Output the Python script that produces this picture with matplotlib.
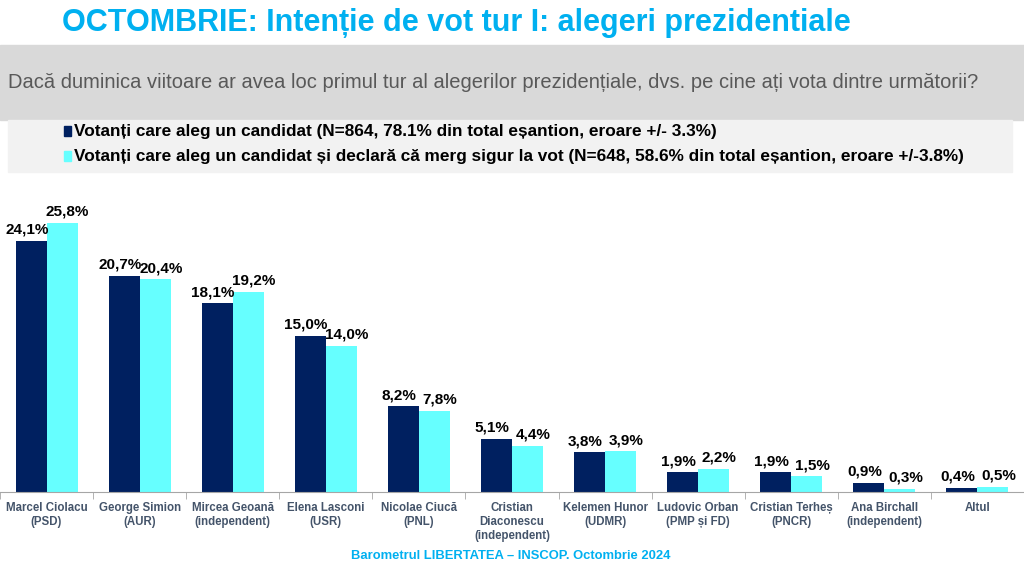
import numpy as np
import matplotlib
matplotlib.use("Agg")
import matplotlib.pyplot as plt
from matplotlib.patches import Rectangle

# Data
candidates = ["Marcel Ciolacu\n(PSD)", "George Simion\n(AUR)", "Mircea Geoană\n(independent)",
              "Elena Lasconi\n(USR)", "Nicolae Ciucă\n(PNL)", "Cristian\nDiaconescu\n(independent)",
              "Kelemen Hunor\n(UDMR)", "Ludovic Orban\n(PMP și FD)", "Cristian Terheș\n(PNCR)",
              "Ana Birchall\n(independent)", "Altul"]
all_voters = [24.1, 20.7, 18.1, 15.0, 8.2, 5.1, 3.8, 1.9, 1.9, 0.9, 0.4]
sure_voters = [25.8, 20.4, 19.2, 14.0, 7.8, 4.4, 3.9, 2.2, 1.5, 0.3, 0.5]
legend_labels = [
    "Votanți care aleg un candidat (N=864, 78.1% din total eșantion, eroare +/- 3.3%)",
    "Votanți care aleg un candidat și declară că merg sigur la vot (N=648, 58.6% din total eșantion, eroare +/-3.8%)",
]

DARK = "#002060"
CYAN = "#66ffff"
plt.rcParams["font.family"] = ["Liberation Sans", "DejaVu Sans"]

W, H = 1024, 571
fig = plt.figure(figsize=(W / 100, H / 100), dpi=100)

# background bands (figure pixel coords)
def px_rect(x0, y0, x1, y1, color):
    fig.patches.append(Rectangle((x0 / W, 1 - y1 / H), (x1 - x0) / W, (y1 - y0) / H,
                                 transform=fig.transFigure, color=color, zorder=0))

px_rect(0, 45, W, 120, "#d9d9d9")
px_rect(8, 120, 1012, 172, "#f2f2f2")

fig.text(62 / W, 1 - 23 / H, "OCTOMBRIE: Intenție de vot tur I: alegeri prezidentiale",
         fontsize=22, fontweight="bold", color="#00b0f0", va="center", ha="left")
fig.text(8 / W, 1 - 82 / H,
         "Dacă duminica viitoare ar avea loc primul tur al alegerilor prezidențiale, dvs. pe cine ați vota dintre următorii?",
         fontsize=14.5, color="#595959", va="center", ha="left")

# legend
for i, (lab, col) in enumerate(zip(legend_labels, [DARK, CYAN])):
    y = 131 + i * 25
    px_rect(64, y - 5, 71, y + 5, col)
    fig.text(74 / W, 1 - y / H, lab, fontsize=12.4, fontweight="bold",
             color="black", va="center", ha="left")

# chart
ax = fig.add_axes([0, 1 - 492 / H, 1, 292 / H])
x = np.arange(len(candidates))
bw = 0.333
b1 = ax.bar(x - bw / 2, all_voters, bw, color=DARK, zorder=2)
b2 = ax.bar(x + bw / 2, sure_voters, bw, color=CYAN, zorder=2)
for bars, vals, dx in [(b1, all_voters, -3), (b2, sure_voters, 4)]:
    for b, v in zip(bars, vals):
        ax.annotate(f"{v:.1f}%".replace(".", ","), (b.get_x() + b.get_width() / 2, v),
                    xytext=(dx, 3), textcoords="offset points", ha="center", va="bottom",
                    fontsize=11, fontweight="bold", color="black")

ax.set_xlim(-0.5, 10.5)
ax.set_ylim(0, 28)
ax.set_yticks([])
for s in ["top", "left", "right"]:
    ax.spines[s].set_visible(False)
ax.spines["bottom"].set_color("#a6a6a6")
ax.set_xticks(x)
ax.set_xticklabels(candidates, fontsize=8.3, fontweight="bold", color="#44546a", linespacing=1.25)
ax.tick_params(axis="x", length=0, pad=7)
ax.set_xticks(np.arange(-0.5, 11, 1), minor=True)
ax.tick_params(axis="x", which="minor", length=5, color="#a6a6a6")
ax.set_facecolor("none")

fig.text(511 / W, 1 - 556 / H, "Barometrul LIBERTATEA – INSCOP. Octombrie 2024",
         fontsize=9.4, fontweight="bold", color="#00b0f0", ha="center", va="center")

fig.savefig("out.png", dpi=100)
